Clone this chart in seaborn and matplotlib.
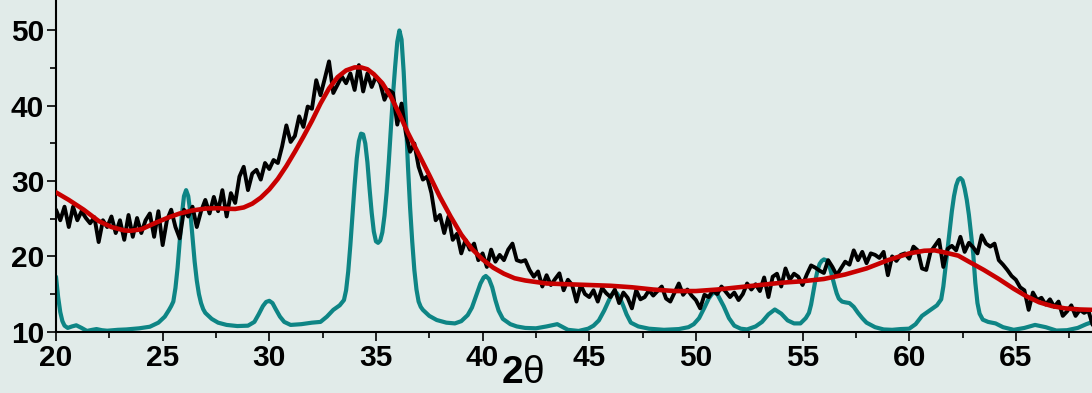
import numpy as np
import pandas as pd
import matplotlib
matplotlib.use("Agg")
import matplotlib.pyplot as plt
import seaborn as sns
from matplotlib.ticker import MultipleLocator

# ---------------- data ----------------
# black measured pattern, sampled every 0.2 deg starting at 20.0
black_start = 20.0
black_step = 0.2
black_y = [
    26.2, 24.8, 26.6, 23.9, 26.6, 24.8, 26.0, 25.1, 24.4, 25.2,   # 20.0-21.8
    21.9, 24.8, 23.9, 25.3, 23.1, 24.8, 22.2, 25.5, 22.6, 25.1,   # 22.0-23.8
    23.1, 24.8, 25.7, 22.6, 26.0, 21.5, 24.8, 26.2, 23.9, 22.4,   # 24.0-25.8
    26.2, 25.3, 26.6, 23.9, 26.0, 27.5, 25.7, 27.9, 26.0, 28.8,   # 26.0-27.8
    25.3, 28.4, 27.1, 30.6, 31.9, 28.8, 31.0, 31.5, 30.2, 32.4,   # 28.0-29.8
    31.6, 32.8, 32.4, 34.6, 37.4, 35.2, 36.0, 38.6, 37.2, 39.9,   # 30.0-31.8
    39.6, 43.4, 41.4, 43.6, 45.9, 41.7, 42.8, 43.9, 43.0, 44.3,   # 32.0-33.8
    42.1, 45.4, 41.9, 44.3, 42.5, 43.9, 43.0, 40.8, 42.1, 41.7,   # 34.0-35.8
    37.5, 40.3, 36.4, 33.9, 35.0, 31.9, 30.2, 30.6, 28.4, 24.8,   # 36.0-37.8
    25.5, 23.1, 25.3, 22.2, 23.0, 20.4, 22.2, 20.9, 21.7, 19.5,   # 38.0-39.8
    20.4, 18.6, 20.9, 19.3, 20.2, 19.5, 20.9, 21.7, 19.5, 19.3,   # 40.0-41.8
    19.5, 18.2, 17.3, 18.0, 16.0, 17.5, 16.2, 17.0, 17.75, 15.5,  # 42.0-43.8
    16.9, 16.2, 14.0, 16.2, 15.0, 14.6, 15.5, 14.0, 15.8, 15.1,   # 44.0-45.8
    14.6, 15.6, 13.8, 15.2, 14.5, 13.1, 15.5, 14.3, 14.6, 15.5,   # 46.0-47.8
    14.8, 15.4, 16.0, 14.4, 14.0, 15.2, 16.4, 14.9, 15.6, 14.8,   # 48.0-49.8
    14.2, 13.1, 14.9, 14.6, 15.5, 15.0, 16.0, 15.3, 14.6, 15.2,   # 50.0-51.8
    14.2, 15.0, 16.4, 15.6, 16.3, 15.4, 17.2, 14.6, 17.3, 17.7,   # 52.0-53.8
    16.0, 18.4, 16.9, 17.7, 17.3, 16.2, 17.6, 18.8, 18.5, 18.1,   # 54.0-55.8
    17.8, 19.5, 18.6, 17.5, 18.4, 19.3, 18.9, 20.8, 19.5, 20.6,   # 56.0-57.8
    19.1, 20.4, 20.2, 19.8, 20.6, 17.5, 20.0, 19.4, 20.2, 20.4,   # 58.0-59.8
    19.7, 21.3, 20.8, 18.4, 18.2, 20.6, 21.4, 22.2, 18.6, 21.0,   # 60.0-61.8
    21.4, 20.8, 22.6, 20.6, 21.8, 21.2, 20.4, 22.8, 21.7, 21.3,   # 62.0-63.8
    21.7, 19.5, 18.9, 18.2, 17.4, 16.9, 15.9, 15.5, 12.9, 15.2,   # 64.0-65.8
    14.2, 14.5, 13.6, 14.3, 13.3, 14.0, 12.1, 12.7, 13.5, 12.1,   # 66.0-67.8
    12.9, 12.5, 12.8, 10.9,                                       # 68.0-68.6
]

# red fitted envelope
red_x = [20.0, 20.6, 21.3, 22.0, 22.6, 23.2, 23.5, 24.0, 24.7, 25.3, 25.8, 26.4,
         27.0, 27.6, 28.0, 28.4, 28.8, 29.2, 29.6, 30.0, 30.4, 30.8, 31.2, 31.6,
         32.0, 32.4, 32.8, 33.2, 33.6, 34.0, 34.3, 34.6, 34.9, 35.3, 35.7, 36.1,
         36.5, 37.0, 37.5, 38.0, 38.5, 39.0, 39.5, 40.0, 40.5, 41.0, 41.5, 42.0,
         43.0, 44.0, 45.0, 46.0, 47.0, 48.0, 49.0, 50.0, 51.0, 52.0, 53.0, 54.0,
         55.0, 56.0, 57.0, 58.0, 59.0, 60.0, 60.7, 61.2, 61.7, 62.3, 62.8, 63.5,
         64.2, 64.9, 65.5, 66.1, 66.7, 67.3, 68.0, 68.6]
red_y = [28.5, 27.5, 26.2, 24.7, 23.9, 23.45, 23.4, 23.6, 24.5, 25.2, 25.7, 26.1,
         26.35, 26.4, 26.33, 26.3, 26.5, 27.0, 27.8, 28.9, 30.3, 32.0, 33.9, 35.9,
         38.0, 40.3, 42.3, 43.8, 44.7, 45.1, 45.1, 44.85, 44.2, 43.0, 41.2, 38.9,
         36.4, 33.6, 30.8, 27.9, 25.3, 22.9, 21.0, 19.6, 18.5, 17.7, 17.1, 16.8,
         16.4, 16.3, 16.2, 16.1, 15.9, 15.6, 15.4, 15.4, 15.6, 15.9, 16.2, 16.5,
         16.7, 17.0, 17.6, 18.4, 19.5, 20.4, 20.75, 20.8, 20.5, 20.1, 19.3, 18.2,
         17.0, 15.7, 14.7, 13.9, 13.4, 13.1, 12.95, 12.9]

# teal reference pattern
teal_x = [20.0, 20.1, 20.2, 20.3, 20.4, 20.55, 20.75, 20.95, 21.2, 21.45, 21.7, 21.9,
          22.15, 22.4, 22.9, 23.3, 23.9, 24.4, 24.8, 25.1, 25.3, 25.4, 25.5, 25.6,
          25.7, 25.8, 25.9, 26.0, 26.1, 26.2, 26.3, 26.4, 26.5, 26.6, 26.7, 26.8,
          26.9, 27.0, 27.3, 27.6, 28.0, 28.5, 29.0, 29.3, 29.5, 29.7, 29.85, 30.0,
          30.15, 30.3, 30.5, 30.7, 31.0, 31.5, 32.0, 32.4, 32.7, 33.0, 33.3, 33.5,
          33.6, 33.7, 33.8, 33.9, 34.0, 34.1, 34.2, 34.3, 34.4, 34.5, 34.6, 34.7,
          34.8, 34.9, 35.0, 35.1, 35.2, 35.3, 35.4, 35.5, 35.6, 35.7, 35.8, 35.9,
          36.0, 36.1, 36.2, 36.3, 36.4, 36.5, 36.6, 36.7, 36.8, 36.9, 37.0, 37.1,
          37.2, 37.35, 37.5, 37.85, 38.3, 38.7, 39.0, 39.3, 39.5, 39.7, 39.9, 40.05,
          40.15, 40.3, 40.45, 40.6, 40.75, 40.95, 41.3, 41.6, 42.0, 42.5, 43.0, 43.5,
          44.0, 44.5, 44.95, 45.2, 45.45, 45.7, 45.91, 46.05, 46.15, 46.3, 46.45, 46.6,
          46.75, 46.95, 47.3, 47.8, 48.5, 49.2, 49.65, 49.9, 50.15, 50.4, 50.6, 50.75,
          50.85, 51.0, 51.15, 51.3, 51.55, 51.8, 52.1, 52.4, 52.8, 53.1, 53.4, 53.7,
          54.0, 54.3, 54.6, 54.9, 55.15, 55.3, 55.4, 55.5, 55.6, 55.7, 55.8, 55.9,
          56.0, 56.1, 56.2, 56.3, 56.4, 56.5, 56.6, 56.7, 56.85, 57.0, 57.2, 57.4,
          57.6, 57.8, 58.0, 58.4, 58.8, 59.2, 59.6, 60.0, 60.3, 60.6, 61.0, 61.3,
          61.5, 61.6, 61.7, 61.8, 61.9, 62.0, 62.1, 62.2, 62.3, 62.4, 62.5, 62.6,
          62.7, 62.8, 62.9, 63.0, 63.1, 63.2, 63.3, 63.45, 63.7, 64.05, 64.4, 64.9,
          65.4, 65.9, 66.4, 66.9, 67.4, 67.9, 68.3, 68.6]
teal_y = [17.3, 14.6, 12.6, 11.4, 10.8, 10.5, 10.7, 10.85, 10.5, 10.1, 10.25, 10.35,
          10.2, 10.13, 10.25, 10.3, 10.45, 10.66, 11.2, 12.0, 12.9, 13.4, 14.0, 15.8,
          18.5, 22.0, 25.5, 28.0, 28.8, 28.0, 25.8, 22.5, 19.3, 16.8, 15.0, 13.8,
          13.0, 12.5, 11.7, 11.2, 10.9, 10.75, 10.8, 11.3, 12.3, 13.4, 13.95, 14.1,
          13.8, 13.0, 12.0, 11.3, 10.9, 11.0, 11.2, 11.3, 12.0, 12.9, 13.5, 14.2,
          15.5, 18.0, 21.5, 25.5, 29.5, 33.0, 35.3, 36.3, 36.2, 35.0, 32.5, 29.0,
          25.8, 23.3, 22.0, 21.8, 22.1, 23.2, 25.4, 28.5, 32.5, 37.0, 41.5, 45.2,
          48.5, 50.0, 48.8, 44.5, 38.5, 32.0, 26.5, 22.0, 18.2, 15.6, 14.0, 13.3,
          12.9, 12.5, 12.1, 11.55, 11.2, 11.1, 11.4, 12.2, 13.2, 14.8, 16.4, 17.2,
          17.4, 17.0, 15.9, 14.2, 12.8, 11.7, 11.0, 10.7, 10.5, 10.45, 10.7, 11.0,
          10.25, 10.1, 10.4, 10.8, 11.5, 12.8, 14.1, 14.9, 15.25, 15.1, 14.4, 13.4,
          12.3, 11.2, 10.7, 10.4, 10.25, 10.35, 10.6, 11.0, 11.8, 13.2, 14.4, 15.0,
          15.2, 15.0, 14.2, 13.4, 11.8, 10.8, 10.4, 10.3, 10.7, 11.3, 12.3, 12.95,
          12.4, 11.5, 11.1, 11.1, 11.8, 12.5, 13.6, 15.2, 16.8, 18.1, 19.0, 19.4,
          19.6, 19.5, 19.1, 18.3, 17.2, 16.1, 15.1, 14.4, 14.0, 13.9, 13.8, 13.3,
          12.5, 11.8, 11.2, 10.6, 10.3, 10.25, 10.35, 10.4, 11.0, 12.1, 12.9, 13.5,
          14.3, 16.0, 18.5, 21.0, 23.4, 26.0, 28.0, 29.4, 30.2, 30.4, 30.1, 29.0,
          27.5, 25.5, 23.0, 20.4, 16.5, 13.8, 12.4, 11.6, 11.3, 11.1, 10.6, 10.25,
          10.5, 10.9, 10.6, 10.15, 10.2, 10.5, 11.0, 11.3]

x_ticks = [20, 25, 30, 35, 40, 45, 50, 55, 60, 65]
y_ticks = [10, 20, 30, 40, 50]

# ---------------- styling ----------------
bg = "#e1ebe9"
sns.set_style("ticks")
plt.rcParams["font.family"] = ["Liberation Sans", "DejaVu Sans"]
plt.rcParams["mathtext.fontset"] = "custom"
plt.rcParams["mathtext.bf"] = "Liberation Sans:bold"
plt.rcParams["mathtext.rm"] = "Liberation Sans"

W, H = 1092, 393
fig = plt.figure(figsize=(W / 100, H / 100), dpi=100, facecolor=bg)
ax = fig.add_axes([56 / W, (H - 331.7) / H, (W - 56) / W, 331.7 / H])
ax.set_facecolor(bg)

black_x = np.round(black_start + black_step * np.arange(len(black_y)), 2)
df_black = pd.DataFrame({"x": black_x, "y": black_y})
df_red = pd.DataFrame({"x": red_x, "y": red_y})
df_teal = pd.DataFrame({"x": teal_x, "y": teal_y})

sns.lineplot(data=df_teal, x="x", y="y", ax=ax, color="#0e8585", lw=3.0,
             estimator=None, sort=False, zorder=2)
sns.lineplot(data=df_black, x="x", y="y", ax=ax, color="black", lw=2.8,
             estimator=None, sort=False, zorder=3)
sns.lineplot(data=df_red, x="x", y="y", ax=ax, color="#c80000", lw=3.3,
             estimator=None, sort=False, zorder=4)

ax.set_xlim(20, 68.57)
ax.set_ylim(10, 54.05)

for s in ("top", "right"):
    ax.spines[s].set_visible(False)
for s in ("left", "bottom"):
    ax.spines[s].set_linewidth(1.5)
    ax.spines[s].set_color("black")

ax.set_xticks(x_ticks)
ax.set_yticks(y_ticks)
ax.xaxis.set_minor_locator(MultipleLocator(2.5))
ax.yaxis.set_minor_locator(MultipleLocator(5))
ax.tick_params(axis="both", which="major", direction="out", length=6.5, width=1.2,
               colors="black", labelsize=21.5)
ax.tick_params(axis="both", which="minor", direction="out", length=4.2, width=1.2,
               colors="black")
ax.tick_params(axis="y", which="major", pad=2)
ax.tick_params(axis="x", which="major", pad=2)
for lab in ax.get_xticklabels() + ax.get_yticklabels():
    lab.set_fontweight("bold")

ax.set_xlabel(r"$\mathbf{2}$θ", fontsize=28, color="black", labelpad=0)
ax.xaxis.set_label_coords((523 - 56) / (W - 56), -0.07)
ax.xaxis.label.set_va("top")
ax.set_ylabel("")

fig.savefig("out.png", dpi=100, facecolor=bg)
